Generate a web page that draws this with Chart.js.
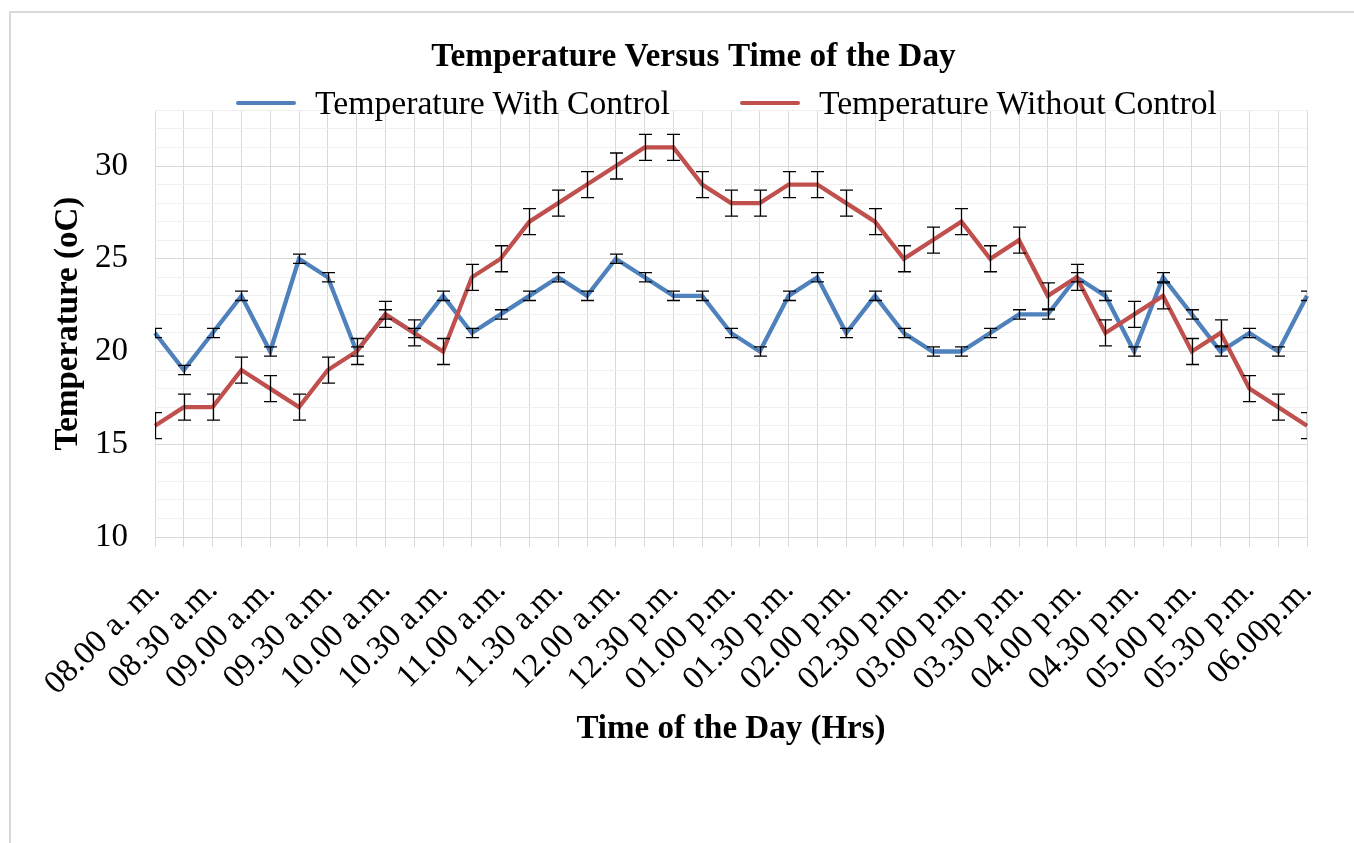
<!DOCTYPE html>
<html lang="en">
<head>
<meta charset="UTF-8">
<title>Temperature Versus Time of the Day</title>
<script src="https://cdn.jsdelivr.net/npm/chart.js@4.4.1/dist/chart.umd.min.js"></script>
<style>
    html, body { margin: 0; padding: 0; background: #fff; overflow: hidden; }
    body { width: 1354px; height: 843px; position: relative; }
    .frame { position: absolute; left: 9px; top: 11px; width: 1400px; height: 900px;
             border-left: 2px solid #d9d9d9; border-top: 2px solid #d9d9d9; }
    #tempChart { position: absolute; left: 0; top: 0; }
    #legend { position: absolute; top: 83px; left: 236px; display: flex; align-items: center;
              font: 33.7px/40px 'Liberation Serif', 'Times New Roman', serif; color: #000; white-space: nowrap; }
    #legend .item { display: flex; align-items: center; margin-right: 70px; }
    #legend .swatch { width: 60px; height: 4px; border-radius: 2px; margin-right: 19px; }
</style>
</head>
<body>
    <div class="frame"></div>
    <canvas id="tempChart" width="1387" height="843"></canvas>
    <div id="legend"></div>

<script>
// half-hour tick labels (points are every 15 min, labels every other point)
const timeLabels = ['08.00 a. m.', '08.30 a.m.', '09.00 a.m.', '09.30 a.m.', '10.00 a.m.', '10.30 a.m.',
    '11.00 a.m.', '11.30 a.m.', '12.00 a.m.', '12.30 p.m.', '01.00 p.m.', '01.30 p.m.', '02.00 p.m.',
    '02.30 p.m.', '03.00 p.m.', '03.30 p.m.', '04.00 p.m.', '04.30 p.m.', '05.00 p.m.', '05.30 p.m.', '06.00p.m.'];

const tempWithControl = [21, 19, 21, 23, 20, 25, 24, 20, 22, 21, 23, 21, 22, 23,
    24, 23, 25, 24, 23, 23, 21, 20, 23, 24, 21, 23, 21,
    20, 20, 21, 22, 22, 24, 23, 20, 24, 22, 20, 21, 20, 23];
const tempWithoutControl = [16, 17, 17, 19, 18, 17, 19, 20, 22, 21, 20, 24, 25, 27,
    28, 29, 30, 31, 31, 29, 28, 28, 29, 29, 28, 27, 25,
    26, 27, 25, 26, 23, 24, 21, 22, 23, 20, 21, 18, 17, 16];

const errWithControl = 0.25;
const errWithoutControl = 0.7;

// 41 categories: labelled half hours with blank quarter hours between
const categories = [];
timeLabels.forEach((t, i) => {
    categories.push(t);
    if (i < timeLabels.length - 1) categories.push('');
});

const serif = "'Liberation Serif', 'Times New Roman', serif";
const tickFont = { family: serif, size: 33 };
const boldFont = { family: serif, size: 33, weight: 'bold' };

// error bars with caps, clipped to the plot area
const errorBars = {
    id: 'errorBars',
    afterDatasetsDraw(chart) {
        const { ctx, chartArea, scales: { x, y } } = chart;
        const cap = 6.5;
        ctx.save();
        ctx.beginPath();
        ctx.rect(chartArea.left, chartArea.top, chartArea.right - chartArea.left, chartArea.bottom - chartArea.top);
        ctx.clip();
        ctx.strokeStyle = '#000';
        ctx.lineWidth = 1.3;
        chart.data.datasets.forEach((ds, di) => {
            if (!chart.isDatasetVisible(di)) return;
            ds.data.forEach((v, i) => {
                const px = Math.round(x.getPixelForValue(i)) + 0.5;
                const top = y.getPixelForValue(v + ds.errorBar);
                const bot = y.getPixelForValue(v - ds.errorBar);
                ctx.beginPath();
                ctx.moveTo(px, top); ctx.lineTo(px, bot);
                ctx.moveTo(px - cap, top); ctx.lineTo(px + cap, top);
                ctx.moveTo(px - cap, bot); ctx.lineTo(px + cap, bot);
                ctx.stroke();
            });
        });
        ctx.restore();
    }
};

// legend as html so it can sit over the top of the grid like the original
const htmlLegend = {
    id: 'htmlLegend',
    afterUpdate(chart) {
        const box = document.getElementById('legend');
        box.innerHTML = '';
        chart.data.datasets.forEach(ds => {
            const item = document.createElement('div');
            item.className = 'item';
            const sw = document.createElement('span');
            sw.className = 'swatch';
            sw.style.background = ds.borderColor;
            const txt = document.createElement('span');
            txt.textContent = ds.label;
            item.appendChild(sw);
            item.appendChild(txt);
            box.appendChild(item);
        });
    }
};

const ctx = document.getElementById('tempChart').getContext('2d');
const tempChart = new Chart(ctx, {
    type: 'line',
    data: {
        labels: categories,
        datasets: [
            { label: 'Temperature With Control', data: tempWithControl, errorBar: errWithControl,
              borderColor: '#4F81BD', borderWidth: 4.3, pointRadius: 0, tension: 0, order: 1 },
            { label: 'Temperature Without Control', data: tempWithoutControl, errorBar: errWithoutControl,
              borderColor: '#C0504D', borderWidth: 4.3, pointRadius: 0, tension: 0, order: 0 }
        ]
    },
    options: {
        responsive: false,
        animation: false,
        layout: { padding: { left: 80, right: 80, top: 0, bottom: 0 } },
        plugins: {
            legend: { display: false },
            tooltip: { enabled: false },
            title: {
                display: true,
                text: 'Temperature Versus Time of the Day',
                color: '#000',
                font: { family: serif, size: 33.3, weight: 'bold' },
                padding: { top: 37, bottom: 33.4 }
            }
        },
        scales: {
            x: {
                afterFit(s) { s.height = 306; },
                grid: { color: '#d9d9d9', tickColor: '#d9d9d9', tickLength: 10 },
                border: { display: false },
                ticks: { autoSkip: false, minRotation: 45, maxRotation: 45, color: '#000', font: tickFont, padding: 24 },
                title: { display: true, text: 'Time of the Day (Hrs)', color: '#000', font: boldFont,
                         padding: { top: 0, bottom: 94 } }
            },
            y: {
                min: 10,
                max: 33,
                afterFit(s) { s.width = 75; },
                grid: { color: c => (c.tick.value % 5 === 0 ? '#d9d9d9' : '#f0f0f0'), drawTicks: false },
                border: { display: false },
                ticks: { stepSize: 1, autoSkip: false, padding: 27, color: '#000', font: tickFont,
                         callback: v => (v % 5 === 0 ? v : '') },
                title: { display: true, text: 'Temperature (oC)', color: '#000', font: boldFont,
                         padding: { top: -31.8, bottom: 0 } }
            }
        }
    },
    plugins: [errorBars, htmlLegend]
});
</script>
</body>
</html>
